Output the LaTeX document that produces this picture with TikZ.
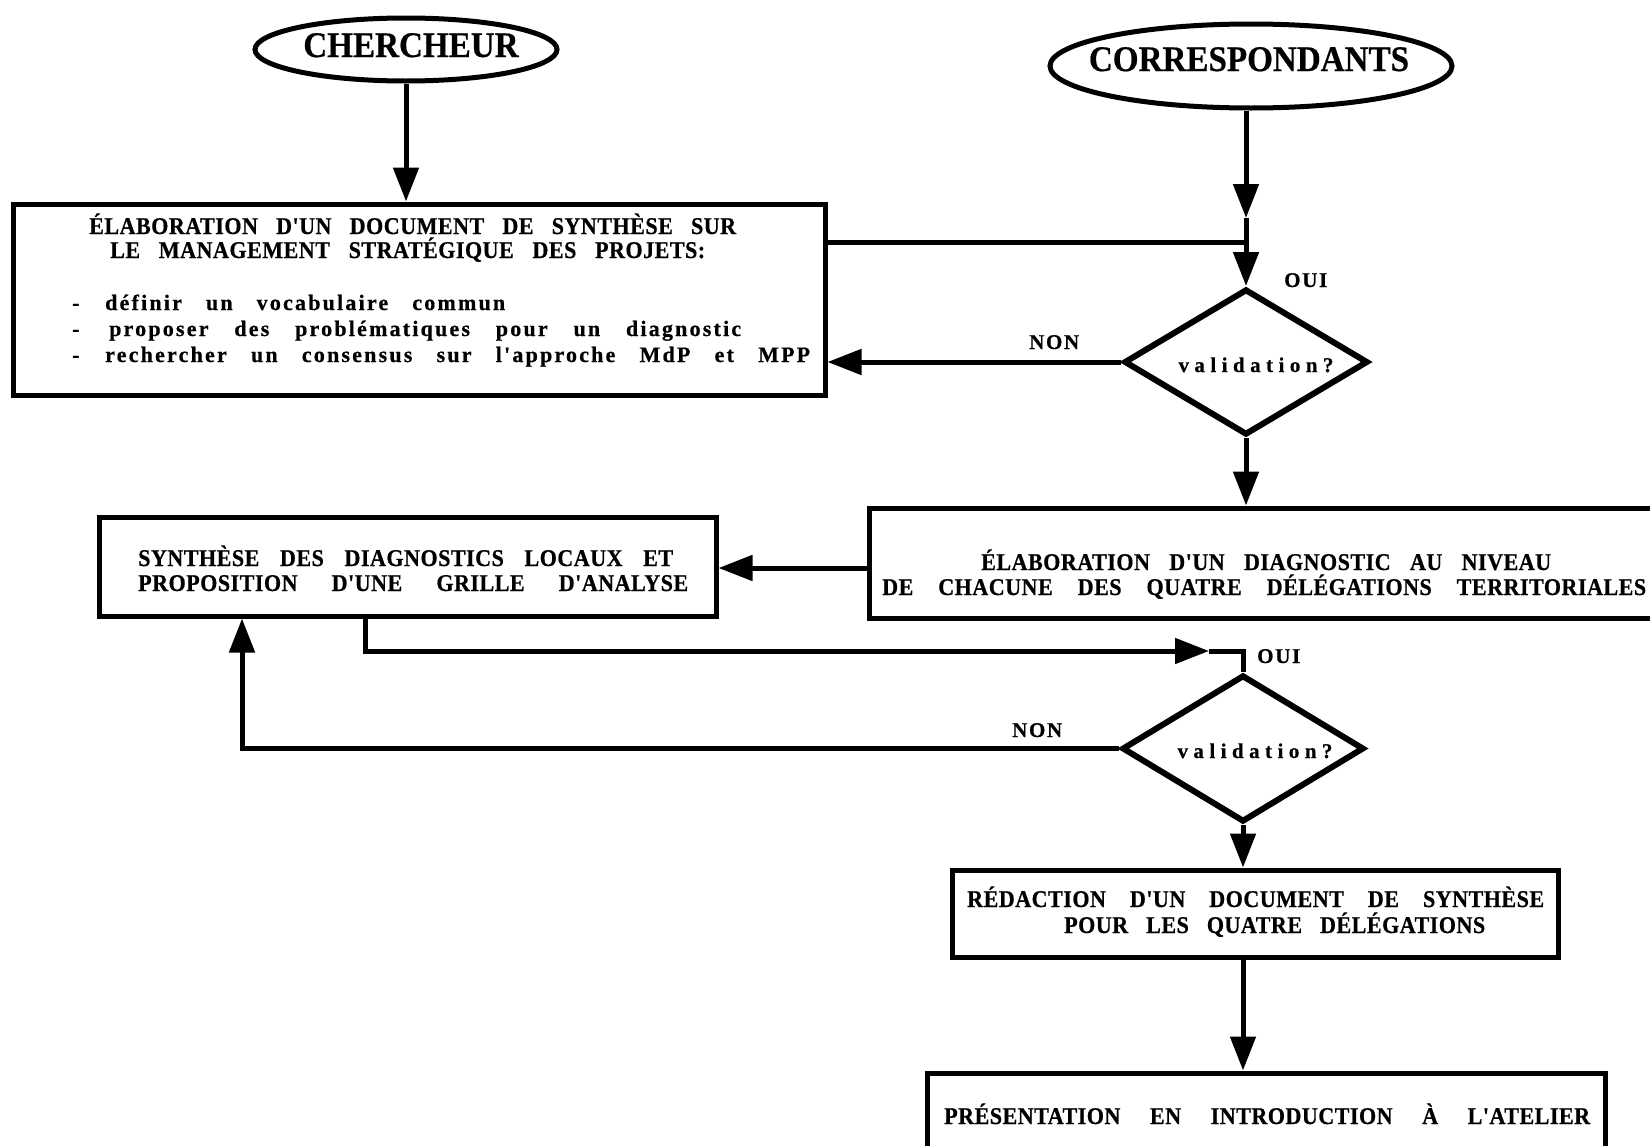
\documentclass[tikz,border=0pt]{standalone}
\usepackage{fontspec}
\setmainfont{Liberation Serif}
\newfontfamily\headfont{Liberation Serif}[FakeStretch=0.92,FakeBold=0.5]
\newfontfamily\boxfont{Liberation Serif}[FakeStretch=0.92,LetterSpace=2,FakeBold=0.6]
\newfontfamily\itemfont{Liberation Serif}[LetterSpace=10,FakeBold=0.6]
\newfontfamily\labfont{Liberation Serif}[LetterSpace=8,FakeBold=0.5]
\newfontfamily\valfont{Liberation Serif}[LetterSpace=26,FakeBold=0.5]
\usetikzlibrary{arrows.meta,shapes.geometric}
% justified text line of a given width
\newcommand{\jline}[2]{\makebox[#1][s]{#2}}
\begin{document}
\begin{tikzpicture}[x=1pt,y=-1pt,
  lw/.style={line width=5pt},
  arr/.style={lw,-{Triangle[length=34pt,width=25pt]}},
  flow/.style={draw,lw,rectangle,inner sep=0pt},
  oval/.style={draw,lw,ellipse,inner sep=0pt},
  choice/.style={draw,line width=6pt,diamond,inner sep=0pt,aspect=1.66},
  headtxt/.style={inner sep=0pt,font=\headfont\bfseries\fontsize{36}{40}\selectfont},
  boxtxt/.style={inner sep=0pt,anchor=base west,font=\boxfont\bfseries\fontsize{24}{28}\selectfont},
  itemtxt/.style={inner sep=0pt,anchor=base west,font=\itemfont\bfseries\fontsize{22}{26}\selectfont},
  labtxt/.style={inner sep=0pt,anchor=base west,font=\labfont\bfseries\fontsize{21}{24}\selectfont},
  valtxt/.style={inner sep=0pt,anchor=base,font=\valfont\bfseries\fontsize{21}{24}\selectfont}]
\useasboundingbox (0,0) rectangle (1650,1146);
\clip (0,0) rectangle (1650,1146);

% --- start ellipses
\node[oval,minimum width=302pt,minimum height=63pt] (cher) at (406,49.5) {};
\node[headtxt,anchor=base] (chert) at (411,57) {CHERCHEUR};
\node[oval,minimum width=402pt,minimum height=84pt] (corr) at (1251,66) {};
\node[headtxt,anchor=base] (corrt) at (1249,71) {CORRESPONDANTS};

% --- process boxes
\node[flow,minimum width=812pt,minimum height=191pt] (box1) at (419,299.5) {};
\node[flow,minimum width=787pt,minimum height=110pt] (box2) at (1262.5,563) {};
\node[flow,minimum width=617pt,minimum height=99pt] (box3) at (407.5,566.5) {};
\node[flow,minimum width=606pt,minimum height=87pt] (box4) at (1255,913.5) {};
\node[flow,minimum width=678pt,minimum height=87pt] (box5) at (1266,1116.5) {};

% --- decisions
\node[choice,minimum width=244pt,minimum height=146pt] (d1) at (1246,362) {};
\node[choice,minimum width=242pt,minimum height=147pt] (d2) at (1243,748.5) {};
\node[valtxt] (d1t) at (1256,372) {validation?};
\node[valtxt] (d2t) at (1255,758) {validation?};

% --- box texts
\node[boxtxt] (b1a) at (89,234) {\jline{647pt}{ÉLABORATION D'UN DOCUMENT DE SYNTHÈSE SUR}};
\node[boxtxt] (b1b) at (110,258) {\jline{595pt}{LE MANAGEMENT STRATÉGIQUE DES PROJETS:}};
\node[itemtxt] (i1d) at (72,310) {-};
\node[itemtxt] (i2d) at (72,336) {-};
\node[itemtxt] (i3d) at (72,362) {-};
\node[itemtxt] (i1) at (105,310) {\jline{400pt}{définir un vocabulaire commun}};
\node[itemtxt] (i2) at (109,336) {\jline{632pt}{proposer des problématiques pour un diagnostic}};
\node[itemtxt] (i3) at (105,362) {\jline{705pt}{rechercher un consensus sur l'approche MdP et MPP}};

\node[boxtxt] (b2a) at (981,570) {\jline{570pt}{ÉLABORATION D'UN DIAGNOSTIC AU NIVEAU}};
\node[boxtxt] (b2b) at (882,595) {\jline{764pt}{DE CHACUNE DES QUATRE DÉLÉGATIONS TERRITORIALES}};

\node[boxtxt] (b3a) at (138,566) {\jline{535pt}{SYNTHÈSE DES DIAGNOSTICS LOCAUX ET}};
\node[boxtxt] (b3b) at (138,591) {\jline{550pt}{PROPOSITION D'UNE GRILLE D'ANALYSE}};

\node[boxtxt] (b4a) at (967,907) {\jline{577pt}{RÉDACTION D'UN DOCUMENT DE SYNTHÈSE}};
\node[boxtxt] (b4b) at (1064,933) {\jline{421pt}{POUR LES QUATRE DÉLÉGATIONS}};

\node[boxtxt] (b5a) at (944,1124) {\jline{646pt}{PRÉSENTATION EN INTRODUCTION À L'ATELIER}};

% --- branch labels
\node[labtxt] (oui1) at (1284,287) {OUI};
\node[labtxt] (non1) at (1029,349) {NON};
\node[labtxt] (oui2) at (1257,663) {OUI};
\node[labtxt] (non2) at (1012,737) {NON};

% --- connectors
\coordinate (c1) at (1246,218);
\coordinate (j1) at (1246,242);
\coordinate (a2) at (1209,651);
\coordinate (up3) at (365,0);
\coordinate (back3) at (242,0);
\coordinate (l2) at (0,568);

\draw[arr] (cher.south) -- (cher.south |- box1.north);
\draw[arr] (d1.north |- corr.south) -- (c1);
\draw[arr] (c1) -- (d1.north);
\draw[lw] (box1.east |- j1) -- (j1);
\draw[arr] (d1.west) -- (d1.west -| box1.east);
\draw[arr] (d1.south) -- (d1.south |- box2.north);
\draw[arr] (box2.west |- l2) -- (box3.east |- l2);
\draw[arr] (up3 |- box3.south) |- (a2);
\draw[lw] (a2) -| (d2.north);
\draw[arr] (d2.west) -| (back3 |- box3.south);
\draw[arr] (d2.south) -- (d2.south |- box4.north);
\draw[arr] (d2.south |- box4.south) -- (d2.south |- box5.north);
\end{tikzpicture}
\end{document}
